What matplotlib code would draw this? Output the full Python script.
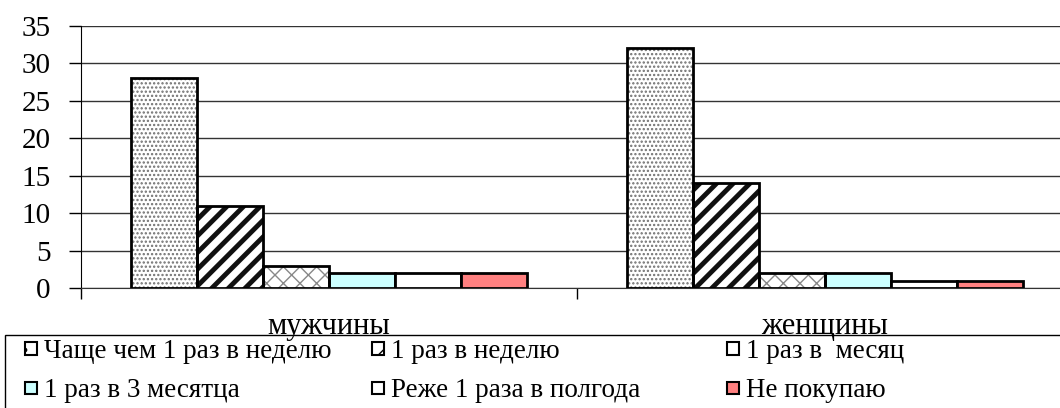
import matplotlib
matplotlib.use('Agg')
import matplotlib.pyplot as plt
import matplotlib.patches as mpatches
from matplotlib.legend_handler import HandlerPatch
import numpy as np

plt.rcParams['font.family'] = ['Liberation Serif', 'DejaVu Serif']

groups = ['мужчины', 'женщины']
series = ['Чаще чем 1 раз в неделю', '1 раз в неделю', '1 раз в  месяц',
          '1 раз в 3 месятца', 'Реже 1 раза в полгода', 'Не покупаю']
men = [28, 11, 3, 2, 2, 2]
women = [32, 14, 2, 2, 1, 1]

faces = ['white', 'white', 'white', '#CCFFFF', 'white', '#FF8080']
hatches = ['....', '//', 'xx', None, None, None]
hatch_colors = ['#707070', '#111111', '#888888', None, None, None]
hatch_lw = [1.1, 3.5, 1.0, 0, 0, 0]

fig = plt.figure(figsize=(10.6, 4.08), dpi=100)
ax = fig.add_axes([81 / 1060, 1 - 288 / 408, 992 / 1060, 262 / 408])

x = np.array([0.5, 1.5])
w = 66 / 496
vals = np.array([men, women]).T
for i in range(len(series)):
    pos = x + (i - 2.5) * w
    if hatches[i]:
        with plt.rc_context({'hatch.linewidth': hatch_lw[i]}):
            ax.bar(pos, vals[i], w, color=faces[i], edgecolor=hatch_colors[i],
                   hatch=hatches[i], linewidth=0, zorder=3)
        ax.bar(pos, vals[i], w, fill=False, edgecolor='black', linewidth=2, zorder=4)
    else:
        ax.bar(pos, vals[i], w, color=faces[i], edgecolor='black', linewidth=2, zorder=3)

ax.set_xlim(0, 2)
ax.set_ylim(0, 35)
ax.set_yticks(range(0, 36, 5))
ax.yaxis.grid(True, color='#333333', linewidth=1)
ax.set_axisbelow(True)
for s in ['top', 'right']:
    ax.spines[s].set_visible(False)
ax.spines['left'].set_color('black')
ax.spines['bottom'].set_color('#333333')
ax.tick_params(axis='y', direction='out', length=9, width=1, labelsize=21, pad=13)

ax.set_xticks(x)
ax.set_xticklabels(groups)
ax.set_xticks([0, 1, 2], minor=True)
ax.tick_params(axis='x', which='major', length=0, labelsize=22, pad=17)
ax.tick_params(axis='x', which='minor', length=8, width=1, direction='out')


def small_square(legend, orig_handle, xdescent, ydescent, width, height, fontsize):
    side = 0.45 * fontsize
    return mpatches.Rectangle((-xdescent + (width - side) / 2, -ydescent + (height - side) / 2),
                              side, side)


handles = []
for i in range(len(series)):
    handles.append(mpatches.Patch(facecolor=faces[i], edgecolor='black',
                                  hatch=hatches[i][:1] if hatches[i] else None,
                                  linewidth=1.5, label=series[i]))

# the legend is three columns of two rows, placed one by one
col_x = [24, 371, 726]
for c in range(3):
    idx = [c, c + 3]
    fig.legend([handles[k] for k in idx], [series[k] for k in idx],
               loc='upper left', bbox_to_anchor=(col_x[c] / 1060, 1 - 339 / 408),
               frameon=False, fontsize=19.5,
               handler_map={mpatches.Patch: HandlerPatch(patch_func=small_square)},
               handlelength=0.5, handletextpad=0.25,
               labelspacing=0.52, borderaxespad=0, borderpad=0)
fig.patches.append(mpatches.Rectangle((5 / 1060, -0.1), 1.1, 1 - 335 / 408 + 0.1,
                                      transform=fig.transFigure, fill=False,
                                      edgecolor='black', linewidth=1))

fig.savefig('out.png', dpi=100)
